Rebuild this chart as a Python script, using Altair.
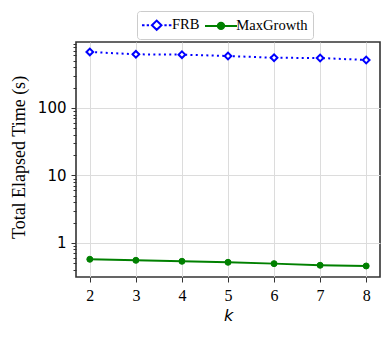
import altair as alt
import pandas as pd

# ---- data ----
k_values = [2, 3, 4, 5, 6, 7, 8]
frb_times = [676, 624, 617, 589, 555, 550, 514]
maxgrowth_times = [0.573, 0.553, 0.535, 0.517, 0.494, 0.467, 0.456]
methods = ["FRB", "MaxGrowth"]
method_colors = ["#0000ff", "#008000"]
major_ticks = [1, 10, 100]
minor_ticks = [0.4, 0.5, 0.6, 0.7, 0.8, 0.9,
               2, 3, 4, 5, 6, 7, 8, 9,
               20, 30, 40, 50, 60, 70, 80, 90,
               200, 300, 400, 500, 600, 700, 800, 900]

df = pd.DataFrame({
    "k": k_values * 2,
    "time": frb_times + maxgrowth_times,
    "method": ["FRB"] * len(k_values) + ["MaxGrowth"] * len(k_values),
})

# legend symbol paths (unit coordinates, line + marker)
frb_path = ("M-1.84,0L-1.52,0M-1.25,0L-0.96,0"
            "M-0.6,0L0,-0.58L0.6,0L0,0.58Z"
            "M0.96,0L1.25,0M1.52,0L1.84,0")
mg_path = ("M-2,0L2,0"
           "M-0.4,0A0.4,0.4,0,1,0,0.4,0A0.4,0.4,0,1,0,-0.4,0"
           "M-0.2,0A0.2,0.2,0,1,0,0.2,0A0.2,0.2,0,1,0,-0.2,0"
           "M-0.07,0L0.07,0")

legend = alt.Legend(
    title=None, orient="none", legendX=61, legendY=-31, direction="horizontal",
    symbolSize=256, symbolStrokeWidth=2, symbolOpacity=1, symbolOffset=5.7,
    labelFont="Liberation Serif", labelFontSize=14.6, labelColor="black",
    labelOffset=6.3, columnPadding=0.3, padding=5,
    strokeColor="#cccccc", fillColor="white", cornerRadius=3,
)

x_axis = alt.Axis(values=k_values, format="d", title="k", grid=True,
                  labelFont="Liberation Serif", labelFontSize=16, labelColor="black",
                  labelPadding=5, tickSize=5,
                  titleFont="DejaVu Sans", titleFontSize=16, titleFontStyle="italic",
                  titleFontWeight="normal", titleColor="black",
                  titleX=152, titleY=43, titleBaseline="alphabetic")
x_enc = alt.X("k:Q", scale=alt.Scale(domain=[1.7, 8.3], nice=False, zero=False), axis=x_axis)

y_scale = alt.Scale(type="log", domain=[0.313, 950], nice=False, zero=False)

major_axis = alt.Axis(values=major_ticks, format="d", title="Total Elapsed Time (s)",
                      grid=True, orient="left", tickSize=5, labelPadding=5,
                      labelFont="DejaVu Sans", labelFontSize=15, labelColor="black",
                      titleFont="Liberation Serif", titleFontSize=18,
                      titleFontWeight="normal", titleColor="black",
                      titleX=-52, titleY=115, titleBaseline="alphabetic", titleAngle=270)
minor_axis = alt.Axis(values=minor_ticks, labels=False, grid=False, title=None,
                      orient="left", tickSize=3, domain=False)

base = alt.Chart(df)
frb = base.transform_filter("datum.method === 'FRB'")
mg = base.transform_filter("datum.method === 'MaxGrowth'")

frb_line = frb.mark_line(color="#0000ff", strokeWidth=2, strokeDash=[2, 3.3]).encode(
    x=x_enc, y=alt.Y("time:Q", scale=y_scale, axis=major_axis))
mg_line = mg.mark_line(color="#008000", strokeWidth=2).encode(
    x=x_enc, y=alt.Y("time:Q", scale=y_scale, axis=None))

frb_points = frb.mark_point(
    shape="diamond", filled=False, fill="white", stroke="#0000ff",
    strokeWidth=2, size=45, opacity=1
).encode(x=x_enc, y=alt.Y("time:Q", scale=y_scale, axis=minor_axis))

mg_points = mg.mark_point(
    shape="circle", filled=True, fill="#008000", stroke="#008000",
    strokeWidth=1, size=36, opacity=1
).encode(x=x_enc, y=alt.Y("time:Q", scale=y_scale, axis=None))

# legend-only layer: no rows drawn, symbols are line + marker paths
legend_layer = base.transform_filter("false").mark_point(
    filled=False, opacity=1, strokeWidth=2
).encode(
    color=alt.Color("method:N", scale=alt.Scale(domain=methods, range=method_colors), legend=legend),
    shape=alt.Shape("method:N", scale=alt.Scale(domain=methods, range=[frb_path, mg_path]),
                    legend=legend),
)

chart = alt.layer(frb_line, mg_line, frb_points, mg_points, legend_layer).resolve_axis(
    y="independent"
).properties(
    width=304, height=235,
    padding={"left": 68, "top": 34, "right": 3, "bottom": 52},
    autosize=alt.AutoSizeParams(type="none"),
).configure_view(
    stroke="#333333", strokeWidth=1.6
).configure_axis(
    domain=False, tickColor="#333333", tickWidth=1,
    gridColor="#dcdcdc", gridWidth=1,
)

chart.save("out.html", embed_options={"renderer": "svg", "actions": False})
